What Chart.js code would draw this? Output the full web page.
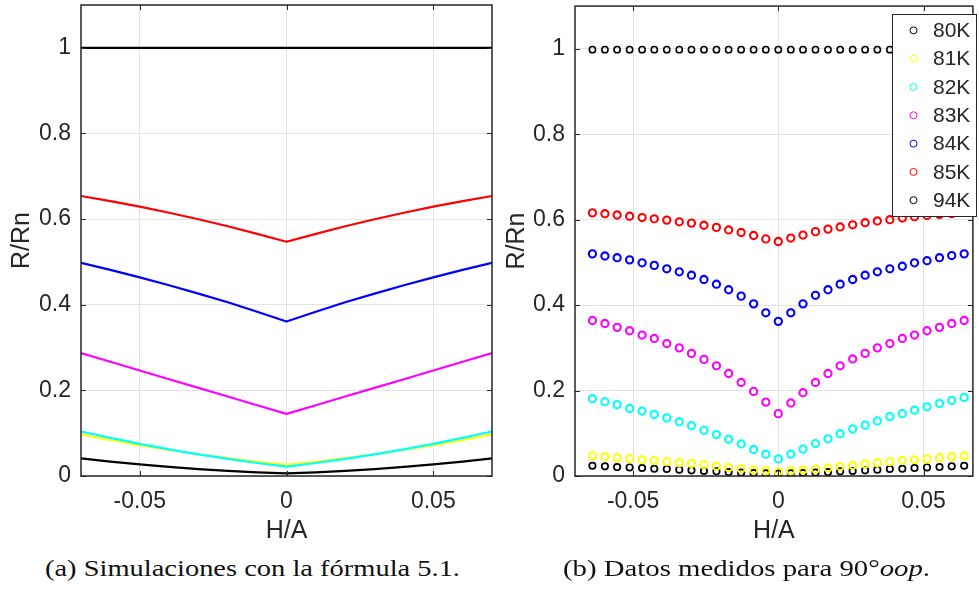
<!DOCTYPE html>
<html>
<head>
<meta charset="utf-8">
<script src="https://cdn.jsdelivr.net/npm/chart.js@4.4.1/dist/chart.umd.min.js"></script>
<style>
  html, body { margin: 0; padding: 0; background: #fff; }
  body { width: 979px; height: 591px; position: relative; overflow: hidden; }
  #c1 { position: absolute; left: 0; top: 0; }
  #c2 { position: absolute; left: 495px; top: 0; }
  .cap { position: absolute; top: 555px; font-family: "Liberation Serif", "DejaVu Serif", serif; font-size: 23px; line-height: 28px; color: #111; white-space: nowrap; transform-origin: left center; }
</style>
</head>
<body>
<canvas id="c1" width="497" height="550"></canvas>
<canvas id="c2" width="484" height="550"></canvas>
<div class="cap" id="capA">(a) Simulaciones con la fórmula 5.1.</div>
<div class="cap" id="capB">(b) Datos medidos para 90°<i>oop</i>.</div>
<script>
// ---------- Data ----------
const simX = [-0.07, -0.06, -0.05, -0.04, -0.03, -0.02, -0.01, 0, 0.01, 0.02, 0.03, 0.04, 0.05, 0.06, 0.07];
const sim80 = [0.041, 0.0336, 0.027, 0.0212, 0.0162, 0.012, 0.0086, 0.006, 0.0086, 0.012, 0.0162, 0.0212, 0.027, 0.0336, 0.041];
const sim81 = [0.097, 0.084, 0.072, 0.0609, 0.0508, 0.0416, 0.0333, 0.026, 0.0333, 0.0416, 0.0508, 0.0609, 0.072, 0.084, 0.097];
const sim82 = [0.104, 0.0889, 0.075, 0.0621, 0.0504, 0.0398, 0.0304, 0.022, 0.0304, 0.0398, 0.0504, 0.0621, 0.075, 0.0889, 0.104];
const sim83 = [0.287, 0.2667, 0.2464, 0.2261, 0.2059, 0.1856, 0.1653, 0.145, 0.1653, 0.1856, 0.2059, 0.2261, 0.2464, 0.2667, 0.287];
const sim84 = [0.498, 0.4815, 0.464, 0.4455, 0.4259, 0.4059, 0.3837, 0.361, 0.3837, 0.4059, 0.4259, 0.4455, 0.464, 0.4815, 0.498];
const sim85 = [0.654, 0.6419, 0.629, 0.6148, 0.5996, 0.5832, 0.5656, 0.547, 0.5656, 0.5832, 0.5996, 0.6148, 0.629, 0.6419, 0.654];
const sim94 = [1, 1, 1, 1, 1, 1, 1, 1, 1, 1, 1, 1, 1, 1, 1];

const measX = [-0.064, -0.0597, -0.0555, -0.0512, -0.0469, -0.0427, -0.0384, -0.0341, -0.0299, -0.0256, -0.0213, -0.0171, -0.0128, -0.0085, -0.0043, 0,
               0.0043, 0.0085, 0.0128, 0.0171, 0.0213, 0.0256, 0.0299, 0.0341, 0.0384, 0.0427, 0.0469, 0.0512, 0.0555, 0.0597, 0.064];
const meas80 = [0.024, 0.0226, 0.021, 0.020, 0.0187, 0.017, 0.0164, 0.0148, 0.0132, 0.0117, 0.011, 0.0093, 0.0078, 0.007, 0.0062, 0.0055,
                0.0062, 0.007, 0.0078, 0.0093, 0.011, 0.0117, 0.0132, 0.0148, 0.0164, 0.017, 0.0187, 0.020, 0.021, 0.0226, 0.024];
const meas81 = [0.0475, 0.045, 0.043, 0.0405, 0.038, 0.036, 0.0335, 0.031, 0.029, 0.0265, 0.023, 0.020, 0.017, 0.014, 0.012, 0.010,
                0.012, 0.014, 0.016, 0.019, 0.022, 0.025, 0.028, 0.031, 0.0335, 0.036, 0.038, 0.040, 0.043, 0.045, 0.0475];
const meas82 = [0.181, 0.174, 0.167, 0.158, 0.152, 0.144, 0.136, 0.127, 0.118, 0.107, 0.097, 0.086, 0.075, 0.062, 0.051, 0.040,
                0.051, 0.063, 0.076, 0.087, 0.099, 0.110, 0.119, 0.129, 0.139, 0.146, 0.154, 0.162, 0.170, 0.177, 0.184];
const meas83 = [0.364, 0.357, 0.348, 0.340, 0.330, 0.322, 0.310, 0.300, 0.287, 0.273, 0.258, 0.240, 0.219, 0.198, 0.173, 0.146,
                0.171, 0.195, 0.219, 0.240, 0.258, 0.274, 0.287, 0.300, 0.310, 0.322, 0.330, 0.340, 0.348, 0.357, 0.364];
const meas84 = [0.520, 0.515, 0.511, 0.506, 0.499, 0.493, 0.485, 0.478, 0.470, 0.460, 0.449, 0.436, 0.421, 0.403, 0.382, 0.362,
                0.382, 0.403, 0.423, 0.436, 0.449, 0.460, 0.470, 0.478, 0.485, 0.491, 0.499, 0.504, 0.511, 0.516, 0.520];
const meas85 = [0.616, 0.614, 0.611, 0.608, 0.605, 0.602, 0.599, 0.595, 0.592, 0.587, 0.582, 0.576, 0.570, 0.563, 0.555, 0.549,
                0.557, 0.564, 0.572, 0.578, 0.583, 0.588, 0.593, 0.597, 0.600, 0.604, 0.607, 0.610, 0.612, 0.614, 0.617];
const meas94 = [0.998, 0.998, 0.998, 0.998, 0.998, 0.998, 0.998, 0.998, 0.998, 0.998, 0.998, 0.998, 0.998, 0.998, 0.998, 0.998,
                0.998, 0.998, 0.998, 0.998, 0.998, 0.998, 0.998, 0.998, 0.998, 0.998, 0.998, 0.998, 0.998, 0.998, 0.998];

const seriesLabels = ['80K', '81K', '82K', '83K', '84K', '85K', '94K'];
const seriesColors = ['#000000', '#FFFF00', '#00FFFF', '#FF00FF', '#0000FF', '#FF0000', '#000000'];
const xTickValues = [-0.05, 0, 0.05];
const yTickValues = [0, 0.2, 0.4, 0.6, 0.8, 1];
const xTitle = 'H/A';
const yTitle = 'R/Rn';

// ---------- Helpers ----------
const AX = '#262626';
const FONT = '"Liberation Sans", Arial, sans-serif';
const pts = (xs, ys) => xs.map((x, i) => ({ x: x, y: ys[i] }));
const fmt = v => (Math.abs(v) < 1e-9 ? '0' : String(+v.toFixed(4)));

// MATLAB-like box with inward ticks
const boxPlugin = {
  id: 'matlabBox',
  afterDatasetsDraw(chart) {
    const { ctx, chartArea: a, scales } = chart;
    const L = 5;
    ctx.save();
    ctx.strokeStyle = AX;
    ctx.lineWidth = 1;
    ctx.beginPath();
    scales.x.ticks.forEach(t => {
      const px = Math.round(scales.x.getPixelForValue(t.value)) + 0.5;
      ctx.moveTo(px, a.bottom); ctx.lineTo(px, a.bottom - L);
      ctx.moveTo(px, a.top); ctx.lineTo(px, a.top + L);
    });
    scales.y.ticks.forEach(t => {
      const py = Math.round(scales.y.getPixelForValue(t.value)) + 0.5;
      ctx.moveTo(a.left, py); ctx.lineTo(a.left + L, py);
      ctx.moveTo(a.right, py); ctx.lineTo(a.right - L, py);
    });
    ctx.stroke();
    ctx.lineWidth = 1.5;
    ctx.strokeRect(a.left, a.top, a.right - a.left, a.bottom - a.top);
    ctx.restore();
  }
};

const legendPlugin = {
  id: 'boxLegend',
  afterDraw(chart, args, opts) {
    if (!opts || !opts.show) return;
    const { ctx } = chart;
    const x0 = opts.x, y0 = opts.y, w = opts.w, h = opts.h;
    ctx.save();
    ctx.fillStyle = '#fff';
    ctx.fillRect(x0, y0, w, h);
    ctx.strokeStyle = AX;
    ctx.lineWidth = 1;
    ctx.strokeRect(x0 + 0.5, y0 + 0.5, w, h);
    ctx.font = '21px ' + FONT;
    ctx.textBaseline = 'middle';
    ctx.textAlign = 'left';
    seriesLabels.forEach((lab, i) => {
      const cy = y0 + 16.4 + i * 28.3;
      ctx.beginPath();
      ctx.strokeStyle = seriesColors[i];
      ctx.lineWidth = 1;
      ctx.arc(x0 + 21.5, cy, 3.5, 0, Math.PI * 2);
      ctx.stroke();
      ctx.fillStyle = AX;
      ctx.fillText(lab, x0 + 41, cy + 1);
    });
    ctx.restore();
  }
};

function axes(xmin, xmax, yW) {
  return {
    x: {
      type: 'linear', min: xmin, max: xmax,
      afterFit: s => { s.height = 74; s.paddingLeft = 0; s.paddingRight = 0; },
      afterBuildTicks: s => { s.ticks = xTickValues.map(v => ({ value: v })); },
      ticks: { callback: v => fmt(v), color: AX, padding: 12, maxRotation: 0,
               font: { family: FONT, size: 23 } },
      grid: { color: '#e3e3e3', lineWidth: 1, drawTicks: false },
      border: { display: false },
      title: { display: true, text: xTitle, color: AX, padding: { top: 4, bottom: 4 },
               font: { family: FONT, size: 25 } }
    },
    y: {
      type: 'linear', min: 0, max: 1.1,
      afterFit: s => { s.width = yW; s.paddingTop = 0; s.paddingBottom = 0; },
      afterBuildTicks: s => { s.ticks = yTickValues.map(v => ({ value: v })); },
      ticks: { callback: v => fmt(v), color: AX, padding: 10,
               font: { family: FONT, size: 23 } },
      grid: { color: '#e3e3e3', lineWidth: 1, drawTicks: false },
      border: { display: false },
      title: { display: true, text: yTitle, color: AX, padding: { top: 7, bottom: 4 },
               font: { family: FONT, size: 25 } }
    }
  };
}

Chart.defaults.font.family = FONT;

// ---------- Left chart: simulations ----------
const simSeries = [sim80, sim81, sim82, sim83, sim84, sim85, sim94];
new Chart(document.getElementById('c1'), {
  type: 'line',
  data: {
    datasets: simSeries.map((ys, i) => ({
      label: seriesLabels[i],
      data: pts(simX, ys),
      borderColor: seriesColors[i],
      backgroundColor: seriesColors[i],
      borderWidth: 2.2,
      pointRadius: 0,
      tension: 0,
      borderJoinStyle: 'round',
      fill: false,
      order: 10 - i
    }))
  },
  options: {
    responsive: false, animation: false, devicePixelRatio: 1,
    layout: { padding: { top: 5, right: 5, bottom: 0, left: 0 } },
    plugins: { legend: { display: false }, tooltip: { enabled: false } },
    scales: axes(-0.07, 0.07, 81)
  },
  plugins: [boxPlugin]
});

// ---------- Right chart: measurements ----------
const measSeries = [meas80, meas81, meas82, meas83, meas84, meas85, meas94];
const ptR = [3.2, 3.6, 3.6, 3.6, 3.6, 3.6, 3.1];
const ptW = [1.7, 2, 2.1, 2.1, 2.1, 2.1, 1.6];
new Chart(document.getElementById('c2'), {
  type: 'scatter',
  data: {
    datasets: measSeries.map((ys, i) => ({
      label: seriesLabels[i],
      data: pts(measX, ys),
      borderColor: seriesColors[i],
      backgroundColor: 'rgba(0,0,0,0)',
      pointRadius: ptR[i],
      pointBorderWidth: ptW[i],
      pointStyle: 'circle',
      order: 10 - i
    }))
  },
  options: {
    responsive: false, animation: false, devicePixelRatio: 1,
    layout: { padding: { top: 5, right: 1, bottom: 0, left: 0 } },
    plugins: {
      legend: { display: false }, tooltip: { enabled: false },
      boxLegend: { show: true, x: 397, y: 14, w: 84, h: 202 }
    },
    scales: axes(-0.07, 0.067, 80)
  },
  plugins: [boxPlugin, legendPlugin]
});

// ---------- Captions ----------
function fitCap(id, left, width) {
  const el = document.getElementById(id);
  const w = el.getBoundingClientRect().width;
  el.style.left = left + 'px';
  el.style.transform = 'scaleX(' + (width / w) + ')';
}
fitCap('capA', 45, 415);
fitCap('capB', 563, 367);
</script>
</body>
</html>
